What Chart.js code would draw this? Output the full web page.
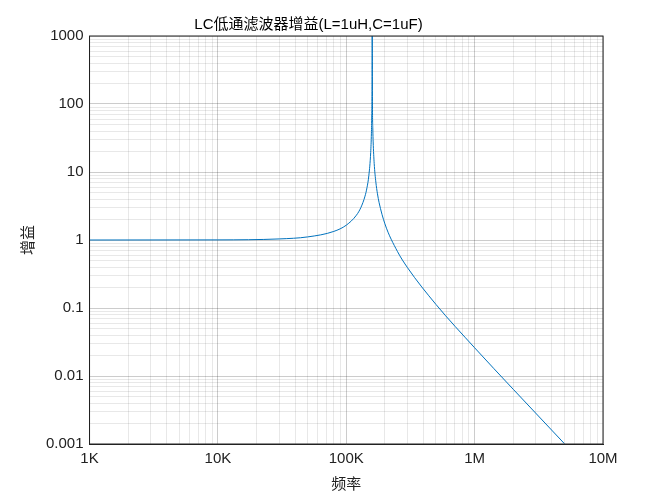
<!DOCTYPE html>
<html>
<head>
<meta charset="utf-8">
<script src="https://cdn.jsdelivr.net/npm/chart.js@4/dist/chart.umd.min.js"></script>
<style>
  html, body { margin: 0; background: #fff; }
</style>
</head>
<body>
<canvas id="myChart" width="667" height="500"></canvas>
<script>
// frequency (Hz) and gain
const freqs = [1e3, 1e4, 3e4, 5e4, 8e4, 1e5, 1.2e5, 1.3e5, 1.4e5, 1.45e5, 1.5e5, 1.55e5, 1.57e5,
  1.58e5, 1.585e5, 1.59e5, 1.5915e5, 1.6e5, 1.61e5, 1.62e5, 1.65e5, 1.7e5, 1.75e5, 1.8e5,
  2e5, 2.5e5, 3e5, 5e5, 1e6, 2e6, 5e6];
const gains = [1, 1.004, 1.037, 1.11, 1.338, 1.652, 2.317, 3.005, 4.42, 5.88, 8.95, 19.4, 37.2,
  69, 121.7, 515, 2000, 93.9, 42.9, 27.7, 13.4, 7.1, 4.78, 3.58,
  1.727, 0.682, 0.3917, 0.1127, 0.026, 0.00637, 0.001014];
const xDecades = [1e3, 1e4, 1e5, 1e6, 1e7];
const xLabels = ["1K", "10K", "100K", "1M", "10M"];
const yDecades = [0.001, 0.01, 0.1, 1, 10, 100, 1000];
const yLabels = ["0.001", "0.01", "0.1", "1", "10", "100", "1000"];

function logTicks(min, max) {
  const t = [];
  for (let d = min; d < max * 1.0001; d *= 10) {
    for (let k = 1; k <= 9; k++) {
      const v = d * k;
      if (v <= max * 1.0001) t.push({ value: v });
    }
  }
  return t;
}
function isDecade(v) {
  const l = Math.log10(v);
  return Math.abs(l - Math.round(l)) < 1e-6;
}
function label(decades, labels) {
  return (v) => {
    const i = decades.findIndex((d) => Math.abs(d - v) / d < 1e-6);
    return i >= 0 ? labels[i] : "";
  };
}
const font = { family: "Liberation Sans", size: 15 };
const cjk = { family: "Noto Sans CJK SC", size: 15 };

new Chart(document.getElementById("myChart"), {
  type: "scatter",
  data: {
    datasets: [{
      data: freqs.map((f, i) => ({ x: f, y: gains[i] })),
      showLine: true,
      borderColor: "#0072BD",
      borderWidth: 1,
      pointRadius: 0,
      cubicInterpolationMode: "monotone",
    }],
  },
  options: {
    responsive: false,
    animation: false,
    layout: { padding: { left: 14, right: 64, top: 0, bottom: 8 } },
    plugins: {
      legend: { display: false },
      tooltip: { enabled: false },
      title: {
        display: true,
        text: "LC低通滤波器增益(L=1uH,C=1uF)",
        color: "#000",
        font: { family: "'Liberation Sans', 'Noto Sans CJK SC'", size: 15, weight: "normal" },
        padding: { top: 16, bottom: 2 },
      },
    },
    scales: {
      x: {
        type: "logarithmic",
        min: 1e3, max: 1e7,
        afterBuildTicks: (s) => { s.ticks = logTicks(1e3, 1e7); },
        ticks: { autoSkip: false, maxRotation: 0, color: "#222", font, padding: 6, callback: label(xDecades, xLabels) },
        grid: {
          color: (c) => isDecade(c.tick.value) ? "rgba(0,0,0,0.2)" : "rgba(0,0,0,0.09)",
          tickLength: 0,
        },
        border: { color: "#222" },
        title: { display: true, text: "频率", color: "#222", font: cjk, padding: 0 },
      },
      y: {
        type: "logarithmic",
        min: 0.001, max: 1000,
        afterBuildTicks: (s) => { s.ticks = logTicks(0.001, 1000); },
        ticks: { autoSkip: false, color: "#222", font, padding: 6, callback: label(yDecades, yLabels) },
        grid: {
          color: (c) => isDecade(c.tick.value) ? "rgba(0,0,0,0.2)" : "rgba(0,0,0,0.09)",
          tickLength: 0,
        },
        border: { color: "#222" },
        title: { display: true, text: "增益", color: "#222", font: cjk, padding: 4 },
      },
    },
  },
  plugins: [{
    id: "box",
    afterDraw(chart) {
      const { ctx, chartArea: a } = chart;
      ctx.save();
      ctx.strokeStyle = "#222";
      ctx.lineWidth = 1;
      ctx.strokeRect(a.left, a.top, a.right - a.left, a.bottom - a.top);
      ctx.restore();
    },
  }],
});
</script>
</body>
</html>
